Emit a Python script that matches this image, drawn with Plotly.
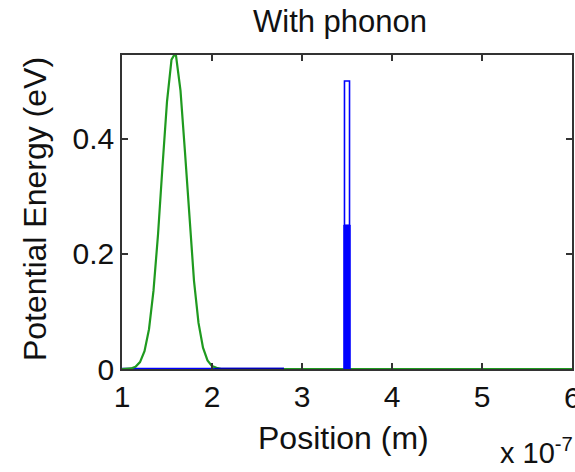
import plotly.graph_objects as go

# Green wave packet (position in units of 1e-7 m, energy in eV)
wave_x = [1.00, 1.05, 1.10, 1.15, 1.20, 1.25, 1.30, 1.35, 1.40, 1.45, 1.50, 1.55, 1.58,
          1.60, 1.65, 1.70, 1.75, 1.80, 1.85, 1.90, 1.95, 2.00, 2.05, 2.10, 6.00]
wave_y = [0.000, 0.000, 0.001, 0.004, 0.012, 0.031, 0.069, 0.136, 0.233, 0.352, 0.464, 0.537, 0.545,
          0.544, 0.483, 0.376, 0.256, 0.153, 0.080, 0.037, 0.015, 0.005, 0.002, 0.000, 0.000]

# Blue baseline potential
base_x = [1.00, 2.80]
base_y = [0.0, 0.0]
dark_x = [2.03, 2.80]
dark_y = [0.0, 0.0]

# Blue barrier (outline up to 0.5 eV, solid part up to 0.25 eV)
barrier_x = [3.472, 3.472, 3.528, 3.528]
barrier_y = [0.0, 0.50, 0.50, 0.0]
solid_x = [3.465, 3.465, 3.535, 3.535, 3.465]
solid_y = [0.0, 0.25, 0.25, 0.0, 0.0]

x_ticks = [1, 2, 3, 4, 5, 6]
x_tick_text = ["1", "2", "3", "4", "5", ""]
last_x_label = "6"
y_ticks = [0, 0.2, 0.4]
y_tick_text = ["0", "0.2", "0.4"]

BLUE = "#0000ff"
GREEN = "#1f9a1f"
FONT = "Liberation Sans, Arial, sans-serif"
TXT = "#111111"

fig = go.Figure()
fig.add_trace(go.Scatter(x=base_x, y=base_y, mode="lines",
                         line=dict(color=BLUE, width=2.5), hoverinfo="skip"))
fig.add_trace(go.Scatter(x=wave_x, y=wave_y, mode="lines",
                         line=dict(color=GREEN, width=2.2), hoverinfo="skip"))
fig.add_trace(go.Scatter(x=dark_x, y=dark_y, mode="lines",
                         line=dict(color="#0000b0", width=2.5), hoverinfo="skip"))
fig.add_trace(go.Scatter(x=barrier_x, y=barrier_y, mode="lines",
                         line=dict(color=BLUE, width=1.6), hoverinfo="skip"))
fig.add_trace(go.Scatter(x=solid_x, y=solid_y, mode="lines", fill="toself",
                         fillcolor=BLUE, line=dict(color=BLUE, width=1), hoverinfo="skip"))

axis_common = dict(showgrid=False, zeroline=False, showline=True, mirror="ticks",
                   linecolor="#333333", linewidth=1.5, ticks="inside", ticklen=6,
                   tickcolor="#333333", tickwidth=1.5, automargin=False,
                   tickfont=dict(family=FONT, size=30, color=TXT))

fig.update_layout(
    width=575, height=472,
    margin=dict(l=122, r=2.5, t=55, b=103),
    paper_bgcolor="white", plot_bgcolor="white",
    showlegend=False,
    font=dict(family=FONT, color=TXT),
    xaxis=dict(range=[1, 6], tickvals=x_ticks, ticktext=x_tick_text, **axis_common),
    yaxis=dict(range=[0, 0.545], tickvals=y_ticks, ticktext=y_tick_text, **axis_common),
)

plot_h = 472 - 55 - 103
plot_w = 575 - 122 - 2.5
def px_x(p):
    return (p - 122) / plot_w
def px_y(p):
    return (472 - 103 - p) / plot_h

fig.add_annotation(text=last_x_label, x=x_ticks[-1], y=px_y(397), xref="x", yref="paper",
                   showarrow=False, xanchor="center", yanchor="middle",
                   font=dict(family=FONT, size=30, color=TXT))
fig.add_annotation(text="With phonon", x=px_x(340), y=px_y(22), xref="paper", yref="paper",
                   showarrow=False, xanchor="center", yanchor="middle",
                   font=dict(family=FONT, size=31, color=TXT))
fig.add_annotation(text="Position (m)", x=px_x(344), y=px_y(438), xref="paper", yref="paper",
                   showarrow=False, xanchor="center", yanchor="middle",
                   font=dict(family=FONT, size=32, color=TXT))
fig.add_annotation(text="Potential Energy (eV)", x=px_x(35), y=px_y(209), xref="paper", yref="paper",
                   showarrow=False, xanchor="center", yanchor="middle", textangle=-90,
                   font=dict(family=FONT, size=32, color=TXT))
fig.add_annotation(text="x 10<sup>-7</sup>", x=px_x(576), y=px_y(471), xref="paper", yref="paper",
                   showarrow=False, xanchor="right", yanchor="bottom",
                   font=dict(family=FONT, size=29, color=TXT))

fig.write_html("out.html")
